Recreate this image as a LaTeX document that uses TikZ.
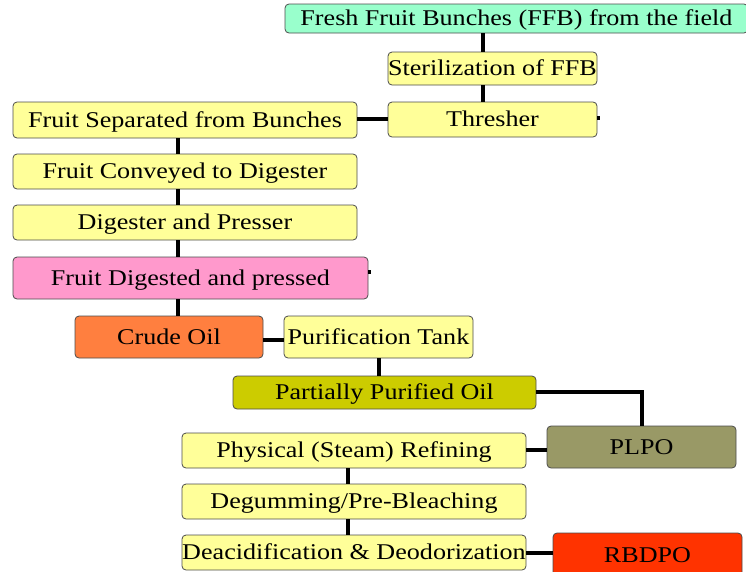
\documentclass[tikz,border=0pt]{standalone}
\usepackage{fontspec}
\setmainfont{Liberation Serif}[FakeStretch=1.16]
\definecolor{cteal}{HTML}{99FFCC}
\definecolor{cyel}{HTML}{FFFF99}
\definecolor{cpink}{HTML}{FF99CC}
\definecolor{corange}{HTML}{FF7F3F}
\definecolor{colive}{HTML}{CCCC00}
\definecolor{cplpo}{HTML}{999966}
\definecolor{cred}{HTML}{FF3300}
\tikzset{
  box/.style={draw=black!70, line width=0.8pt, rounded corners=4pt, inner sep=0pt,
    font=\fontsize{22.5}{24}\selectfont, text height=17pt, text depth=2.5pt},
  link/.style={line width=4pt, black}
}
\begin{document}
\begin{tikzpicture}[x=1pt,y=-1pt]
\useasboundingbox (0,0) rectangle (746,571);
\node[box, fill=cteal, minimum width=463pt, minimum height=29pt] (ffb) at (516.5,18.5) {Fresh Fruit Bunches (FFB) from the field};
\node[box, fill=cyel, minimum width=209pt, minimum height=33pt] (ster) at (492.5,68.5) {Sterilization of FFB};
\node[box, fill=cyel, minimum width=209pt, minimum height=35pt] (thr) at (492.5,119.5) {Thresher};
\node[box, fill=cyel, minimum width=344pt, minimum height=36pt] (sep) at (185,120) {Fruit Separated from Bunches};
\node[box, fill=cyel, minimum width=344pt, minimum height=35pt] (conv) at (185,171.5) {Fruit Conveyed to Digester};
\node[box, fill=cyel, minimum width=344pt, minimum height=35pt] (dig) at (185,222.5) {Digester and Presser};
\node[box, fill=cpink, minimum width=355pt, minimum height=42pt] (dp) at (190.5,278) {Fruit Digested and pressed};
\node[box, fill=corange, minimum width=188pt, minimum height=42pt] (crude) at (169,337) {Crude Oil};
\node[box, fill=cyel, minimum width=189pt, minimum height=42pt] (purif) at (378.5,337) {Purification Tank};
\node[box, fill=colive, minimum width=303pt, minimum height=33pt] (ppo) at (384.5,392.5) {Partially Purified Oil};
\node[box, fill=cplpo, minimum width=189pt, minimum height=42pt] (plpo) at (641.5,447) {PLPO};
\node[box, fill=cyel, minimum width=344pt, minimum height=35pt] (phys) at (354,450.5) {Physical (Steam) Refining};
\node[box, fill=cyel, minimum width=344pt, minimum height=35pt] (degum) at (354,501.5) {Degumming/Pre-Bleaching};
\node[box, fill=cyel, minimum width=344pt, minimum height=35pt] (deac) at (354,552.5) {Deacidification \& Deodorization};
\node[box, fill=cred, minimum width=189pt, minimum height=44pt] (rbdpo) at (647.5,555) {RBDPO};

\draw[link] (ffb.south -| 483,0) -- (ster.north -| 483,0);
\draw[link] (ster.south -| 483,0) -- (thr.north -| 483,0);
\draw[link] (thr.west |- 0,119) -- (sep.east |- 0,119);
\draw[link] (thr.east |- 0,118) -- ++(3,0);
\draw[link] (sep.south -| 178,0) -- (conv.north -| 178,0);
\draw[link] (conv.south -| 178,0) -- (dig.north -| 178,0);
\draw[link] (dig.south -| 178,0) -- (dp.north -| 178,0);
\draw[link] (dp.east |- 0,272) -- ++(3,0);
\draw[link] (dp.south -| 178,0) -- (crude.north -| 178,0);
\draw[link] (crude.east |- 0,340) -- (purif.west |- 0,340);
\draw[link] (purif.south -| 379,0) -- (ppo.north -| 379,0);
\draw[link] (ppo.east |- 0,392) -| (plpo.north -| 642,0);
\draw[link] (phys.east |- 0,450) -- (plpo.west |- 0,450);
\draw[link] (phys.south -| 348,0) -- (degum.north -| 348,0);
\draw[link] (degum.south -| 348,0) -- (deac.north -| 348,0);
\draw[link] (deac.east |- 0,553) -- (rbdpo.west |- 0,553);
\end{tikzpicture}
\end{document}
